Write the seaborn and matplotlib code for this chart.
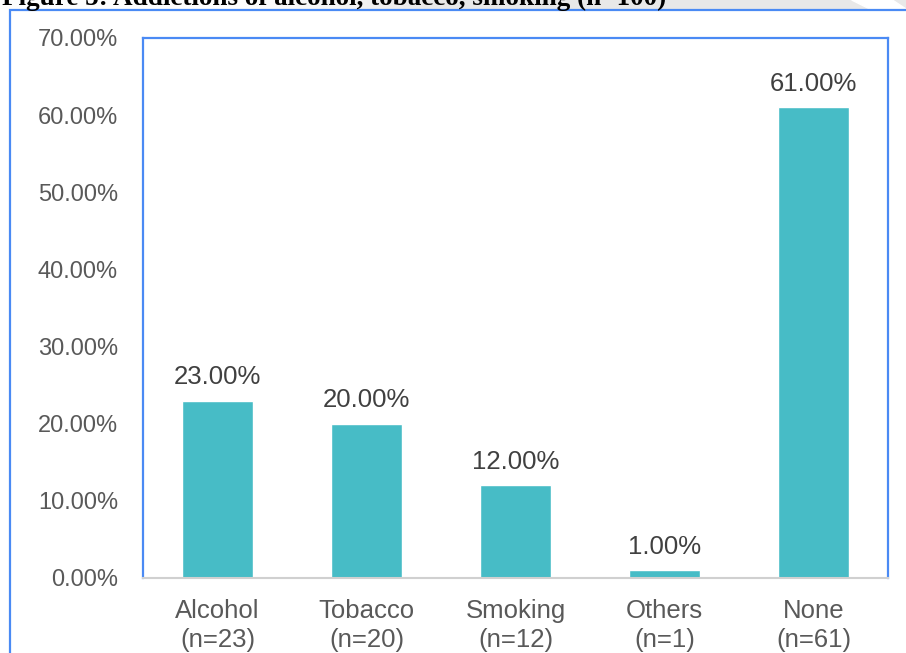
import numpy as np
import pandas as pd
import matplotlib.pyplot as plt
import seaborn as sns
from matplotlib.patches import Rectangle, Polygon

categories = ['Alcohol\n(n=23)', 'Tobacco\n(n=20)', 'Smoking\n(n=12)', 'Others\n(n=1)', 'None\n(n=61)']
percent = [23.0, 20.0, 12.0, 1.0, 61.0]
yticks = [0, 10, 20, 30, 40, 50, 60, 70]

df = pd.DataFrame({'category': categories, 'percent': percent})

sns.set_style("white")
plt.rcParams['font.family'] = ['Liberation Sans', 'DejaVu Sans']

W, H = 906, 653
fig = plt.figure(figsize=(9.06, 6.53), dpi=100)

# light gray page-shadow strip at the very top
strip = fig.add_axes([0, 1 - 9 / H, 1, 9 / H])
grad = np.clip((np.linspace(0, 1, 400) - 0.27) / 0.2, 0, 1)
strip.imshow(grad[None, :], aspect='auto', cmap='Greys', vmin=-0.1, vmax=6.5,
             extent=[0, 1, 0, 1])
strip.add_patch(Polygon([[0.94, 1], [0.985, 1], [1.0, 0], [0.96, 0]],
                        closed=True, color='white', transform=strip.transAxes))
strip.set_xlim(0, 1)
strip.set_ylim(0, 1)
strip.set_axis_off()

# caption above the chart, clipped at the top as in the screenshot
fig.text(2 / W, 1 - 5 / H, 'Figure 5: Addictions of alcohol, tobacco, smoking (n=100)',
         fontsize=19.5, fontweight='bold', family=['Liberation Serif', 'DejaVu Serif'],
         ha='left', va='baseline', color='black')

# outer chart frame
fig.patches.append(Rectangle((10 / W, -0.1), 1.2, 1 - 10 / H + 0.1, transform=fig.transFigure,
                             fill=False, edgecolor='#4a8af4', linewidth=1.6))

ax = fig.add_axes([143 / W, 1 - 578 / H, (888 - 143) / W, (578 - 38) / H])
sns.barplot(data=df, x='category', y='percent', color='#47bcc6', saturation=1,
            width=0.48, ax=ax)

ax.set_ylim(0, 70)
ax.set_xlim(-0.5, len(categories) - 0.5)
ax.set_yticks(yticks)
ax.set_yticklabels([f'{v:.2f}%' for v in yticks])
ax.set_xlabel('')
ax.set_ylabel('')

for i, v in enumerate(percent):
    ax.text(i, v + 1.5, f'{v:.2f}%', ha='center', va='bottom', fontsize=18.5, color='#404040')

for side in ['top', 'left', 'right']:
    ax.spines[side].set_color('#4a8af4')
    ax.spines[side].set_linewidth(1.6)
ax.spines['bottom'].set_color('#d0d0d0')
ax.spines['bottom'].set_linewidth(1.5)

# tick marks between categories
ax.set_xticks(np.arange(len(categories)))
ax.set_xticklabels(categories)
ax.set_xticks(np.arange(len(categories) + 1) - 0.5, minor=True)
ax.tick_params(axis='x', which='major', length=0, labelsize=18.5, labelcolor='#595959', pad=15)
ax.tick_params(axis='x', which='minor', length=8, width=1, color='#d0d0d0', direction='out')
ax.tick_params(axis='y', length=0, labelsize=17, labelcolor='#595959', pad=18)
for lab in ax.get_xticklabels():
    lab.set_linespacing(1.25)

fig.savefig('out.png', dpi=100)
plt.close(fig)
